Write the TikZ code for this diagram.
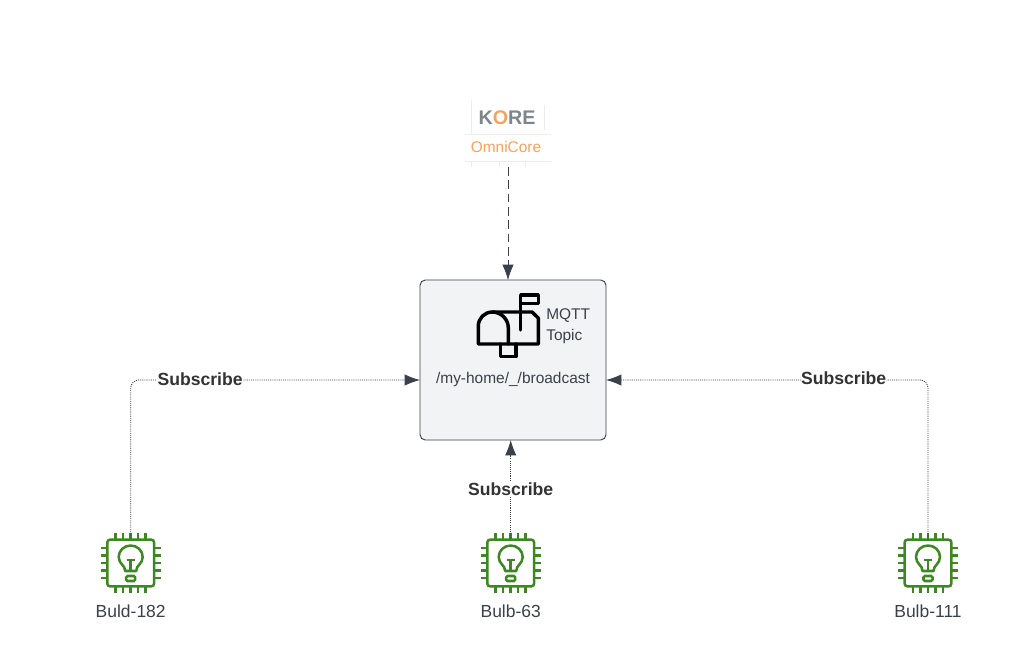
\documentclass[tikz,border=0pt]{standalone}
\usepackage{fontspec}
\setmainfont{Liberation Sans}
\usetikzlibrary{arrows.meta,positioning,calc}
\definecolor{inkdark}{HTML}{3A414A}
\definecolor{topicbg}{HTML}{F2F3F5}
\definecolor{chipgreen}{HTML}{3F8624}
\definecolor{koregrey}{HTML}{7F868A}
\definecolor{omniorange}{HTML}{F5A35C}
\definecolor{logoline}{HTML}{ECECEC}
\begin{document}
\begin{tikzpicture}[
  x=0.75pt, y=-0.75pt,
  topicbox/.style={draw=inkdark, fill=topicbg, rounded corners=4pt, line width=0.7pt, minimum width=139.5pt, minimum height=120pt, inner sep=0pt},
  txt/.style={font=\fontsize{11.6}{14}\selectfont, text=inkdark, inner sep=0pt, align=left},
  bulbtxt/.style={font=\fontsize{13.1}{15}\selectfont, text=inkdark, inner sep=0pt},
  sublabel/.style={font=\fontsize{13.2}{15}\selectfont\bfseries, text=black!80, fill=white, inner sep=0.6pt},
  arr/.style={-{Latex[length=11.5pt,width=8.5pt]}, color=inkdark, line width=0.5pt},
  subarr/.style={arr, line width=0.65pt, dash pattern=on 0.8pt off 0.8pt, rounded corners=6pt},
  chipbody/.style={draw=chipgreen, line width=1.9pt, rounded corners=2pt, minimum size=35pt, inner sep=0pt},
  mailline/.style={draw=black, line width=2.6pt, line join=round, line cap=round},
  chip/.pic={
    \node[chipbody] (-box) at (0,0) {};
    \foreach \d in {-15,-7.5,0,7.5,15} {
      \draw[chipgreen, line width=1.9pt] (\d,-23) -- (\d,-30) (\d,23) -- (\d,30);
      \draw[chipgreen, line width=1.9pt] (-23,\d) -- (-30,\d) (23,\d) -- (30,\d);
    }
    \draw[chipgreen, line width=1.9pt, line join=round]
      (-5.5,8) .. controls (-5.5,2) and (-12,1) .. (-12,-6)
      .. controls (-12,-12.5) and (-6.5,-17.5) .. (0,-17.5)
      .. controls (6.5,-17.5) and (12,-12.5) .. (12,-6)
      .. controls (12,1) and (5.5,2) .. (5.5,8) -- cycle;
    \draw[chipgreen, line width=1.9pt] (0,8) -- (0,-4) (-4,-3) -- (4,-3);
    \draw[chipgreen, line width=1.9pt, rounded corners=1pt] (-4.5,13) rectangle (4.5,18);
  }
]
\useasboundingbox[fill=white] (0,0) rectangle (1030,664);

% logo
\draw[logoline] (465,134) -- (551,134) (465,161) -- (551,161)
  (471,100) -- (471,134) (544,105) -- (544,130)
  (471,161) -- (471,167) (499,161) -- (499,167) (525,161) -- (525,167);
\node[inner sep=0pt, font=\fontsize{14.8}{16}\selectfont\bfseries, text=koregrey] (kore) at (507,118) {K\textcolor{omniorange}{O}RE};
\node[inner sep=0pt, font=\fontsize{11.6}{14}\selectfont, text=omniorange] (omni) at (506,146.5) {OmniCore};
\coordinate (logoS) at (508,167);

% topic
\node[topicbox] (topic) at (513,360) {};
\node[txt] (name) at (513,379.5) {/my-home/\_/broadcast};
\node[txt, anchor=west] (mqtt) at (546,326) {MQTT\\[1.5pt]Topic};
\draw[mailline] (478.3,344) -- (478.3,326) arc[start angle=180, end angle=270, radius=14]
  -- (532,312) -- (538.3,318) -- (538.3,344) -- cycle;
\draw[mailline] (492.3,312) arc[start angle=270, end angle=360, radius=16] -- (508.3,344);
\draw[mailline] (500.7,344) -- (500.7,356.7) -- (516,356.7) -- (516,344);
\draw[mailline] (520.7,330) -- (520.7,295) -- (538.3,295) -- (538.3,303.3) -- (520.7,303.3);

% bulbs
\pic (b1) at (130.7,563) {chip};
\pic (b2) at (510.7,563) {chip};
\pic (b3) at (928,563) {chip};
\node[bulbtxt, below=13pt of b1-box] (l1) {Buld-182};
\node[bulbtxt, below=13pt of b2-box] (l2) {Bulb-63};
\node[bulbtxt, below=13pt of b3-box] (l3) {Bulb-111};

\coordinate (topicN) at (508,280);
\coordinate (topicS) at (510.7,440);
\coordinate (topicW) at (420,380);
\coordinate (topicE) at (606,380);

\draw[arr, dash pattern=on 6.5pt off 3.5pt] (logoS) -- (topicN);
\draw[subarr] (b1-box.north) |- node[sublabel, pos=0.62, yshift=0.8pt] (s1) {Subscribe} (topicW);
\draw[subarr] (b3-box.north) |- node[sublabel, pos=0.631, yshift=1.5pt] (s3) {Subscribe} (topicE);
\draw[subarr] (b2-box.north) -- node[sublabel, pos=0.5] (s2) {Subscribe} (topicS);
\end{tikzpicture}
\end{document}
